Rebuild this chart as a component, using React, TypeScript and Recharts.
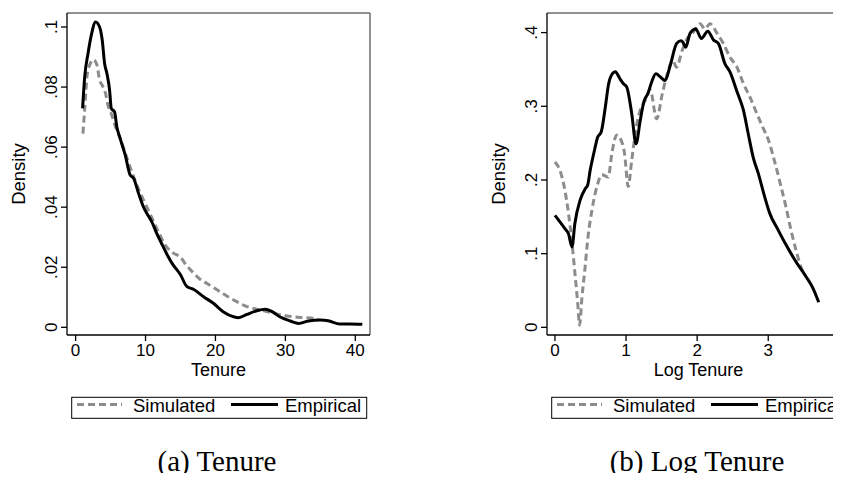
import React from "react";
import { LineChart, Line, XAxis, YAxis, ReferenceLine } from "recharts";

// (a) Tenure
const tenureEmpiricalX = [1, 1.3, 1.77, 2.24, 2.86, 3.43, 3.81, 4.15, 4.48, 4.86, 5.1, 5.57, 5.9, 6.3, 7.1, 7.8, 8.3, 9, 9.7, 10.2, 10.9, 11.6, 12.3, 13, 13.8, 15, 15.9, 16.9, 18.3, 19.7, 21.1, 22.6, 23.3, 24.5, 25.9, 27.1, 28.1, 29.2, 30.7, 31.9, 33.3, 35, 36.1, 37.8, 39.2, 41];
const tenureEmpiricalY = [0.0729, 0.0834, 0.0911, 0.0972, 0.1017, 0.1, 0.0956, 0.0878, 0.0845, 0.079, 0.0729, 0.0717, 0.0667, 0.0634, 0.0573, 0.0507, 0.0496, 0.0446, 0.0401, 0.0379, 0.0351, 0.0313, 0.0279, 0.0246, 0.0213, 0.0175, 0.0136, 0.0126, 0.0102, 0.008, 0.0052, 0.0035, 0.0032, 0.0043, 0.0055, 0.006, 0.0052, 0.0035, 0.0021, 0.0013, 0.0021, 0.0024, 0.0022, 0.0011, 0.0011, 0.001];
const tenureSimulatedX = [1.05, 1.29, 1.62, 2.0, 2.57, 3.06, 3.43, 3.81, 4.29, 4.62, 5.1, 5.71, 6.4, 7.1, 8, 9, 10, 11, 12, 12.6, 13.3, 14, 15, 15.9, 16.9, 17.8, 18.8, 20.7, 22.6, 24.5, 26.4, 28.3, 30.2, 32.1, 34, 34.7];
const tenureSimulatedY = [0.0645, 0.0723, 0.0834, 0.0873, 0.0891, 0.0873, 0.0823, 0.0806, 0.0778, 0.074, 0.0712, 0.0667, 0.0628, 0.058, 0.052, 0.046, 0.041, 0.036, 0.031, 0.0282, 0.026, 0.0247, 0.0233, 0.0205, 0.018, 0.016, 0.0146, 0.0118, 0.0091, 0.0069, 0.0058, 0.0047, 0.0038, 0.0033, 0.003, 0.0026];

// (b) Log Tenure
const logEmpiricalX = [0, 0.14, 0.19, 0.24, 0.28, 0.355, 0.425, 0.46, 0.495, 0.555, 0.6, 0.65, 0.71, 0.75, 0.8, 0.85, 0.91, 0.96, 1.01, 1.08, 1.14, 1.2, 1.25, 1.31, 1.36, 1.42, 1.48, 1.55, 1.62, 1.71, 1.77, 1.8, 1.84, 1.9, 1.98, 2.06, 2.15, 2.23, 2.3, 2.39, 2.46, 2.56, 2.65, 2.72, 2.79, 2.86, 2.95, 3.02, 3.14, 3.25, 3.39, 3.53, 3.63, 3.71];
const logEmpiricalY = [0.152, 0.134, 0.127, 0.109, 0.141, 0.173, 0.188, 0.193, 0.213, 0.24, 0.258, 0.265, 0.3, 0.328, 0.343, 0.347, 0.338, 0.331, 0.326, 0.29, 0.249, 0.281, 0.306, 0.318, 0.333, 0.344, 0.34, 0.335, 0.355, 0.385, 0.389, 0.387, 0.38, 0.399, 0.405, 0.392, 0.402, 0.39, 0.385, 0.358, 0.347, 0.32, 0.295, 0.262, 0.23, 0.209, 0.177, 0.155, 0.132, 0.112, 0.089, 0.069, 0.053, 0.034];
const logSimulatedX = [0, 0.07, 0.14, 0.19, 0.24, 0.285, 0.32, 0.346, 0.38, 0.42, 0.465, 0.52, 0.59, 0.66, 0.75, 0.8, 0.87, 0.93, 0.98, 1.03, 1.08, 1.15, 1.2, 1.27, 1.34, 1.43, 1.51, 1.58, 1.66, 1.71, 1.79, 1.85, 1.95, 2.04, 2.11, 2.18, 2.28, 2.37, 2.46, 2.56, 2.65, 2.74, 2.84, 2.93, 3.0, 3.09, 3.18, 3.25, 3.32, 3.39, 3.46, 3.53];
const logSimulatedY = [0.2245, 0.213, 0.186, 0.155, 0.114, 0.069, 0.033, 0.003, 0.041, 0.078, 0.123, 0.159, 0.191, 0.207, 0.204, 0.236, 0.261, 0.254, 0.235, 0.191, 0.227, 0.275, 0.295, 0.308, 0.322, 0.283, 0.317, 0.344, 0.362, 0.353, 0.376, 0.39, 0.401, 0.412, 0.405, 0.412, 0.399, 0.385, 0.367, 0.353, 0.331, 0.313, 0.29, 0.27, 0.255, 0.225, 0.191, 0.163, 0.132, 0.105, 0.082, 0.069];

const tenureXTicks = [0, 10, 20, 30, 40];
const tenureYTicks = [0, 0.02, 0.04, 0.06, 0.08, 0.1];
const tenureYLabels = ["0", ".02", ".04", ".06", ".08", ".1"];
const logXTicks = [0, 1, 2, 3, 4];
const logYTicks = [0, 0.1, 0.2, 0.3, 0.4];
const logYLabels = ["0", ".1", ".2", ".3", ".4"];
const seriesNames = ["Simulated", "Empirical"];

const SANS = '"Liberation Sans", Arial, sans-serif';
const SERIF = '"Liberation Serif", "Times New Roman", serif';
const GRAY = "#8c8c8c";
const W = 380;
const H = 380;
const PLOT_LEFT = 67;
const PLOT_TOP = 13;
const PLOT_RIGHT = 370;
const PLOT_BOTTOM = 335;

const toPoints = (xs: number[], ys: number[]) => xs.map((x, i) => ({ x, y: ys[i] }));

function XTick(props: any) {
  const { x, y, payload } = props;
  return (
    <text x={x} y={y} dy="0.74em" textAnchor="middle" fontSize={17} fontFamily={SANS} fill="#000">
      {payload.value}
    </text>
  );
}

function makeYTick(ticks: number[], labels: string[]) {
  return (props: any) => {
    const { x, y, payload } = props;
    const i = ticks.indexOf(payload.value);
    return (
      <text
        transform={`translate(${x},${y}) rotate(-90)`}
        textAnchor="middle"
        fontSize={17}
        fontFamily={SANS}
        fill="#000"
      >
        {i >= 0 ? labels[i] : payload.value}
      </text>
    );
  };
}

interface PanelProps {
  left: number;
  empirical: { x: number; y: number }[];
  simulated: { x: number; y: number }[];
  xDomain: [number, number];
  yDomain: [number, number];
  xTicks: number[];
  yTicks: number[];
  yLabels: string[];
  xTitle: string;
  caption: string;
}

function Panel({ left, empirical, simulated, xDomain, yDomain, xTicks, yTicks, yLabels, xTitle, caption }: PanelProps) {
  const midX = (PLOT_LEFT + PLOT_RIGHT) / 2;
  const midY = (PLOT_TOP + PLOT_BOTTOM) / 2;
  return (
    <div style={{ position: "absolute", left, top: 0, width: W, height: 481 }}>
      <LineChart width={W} height={H} margin={{ top: PLOT_TOP, right: W - PLOT_RIGHT, bottom: 0, left: 0 }}>
        <XAxis
          type="number"
          dataKey="x"
          domain={xDomain}
          ticks={xTicks}
          interval={0}
          allowDataOverflow
          height={H - PLOT_BOTTOM}
          tickSize={6}
          tickMargin={2}
          axisLine={{ stroke: "#000", strokeWidth: 1.3 }}
          tickLine={{ stroke: "#000", strokeWidth: 1.3 }}
          tick={XTick}
          label={{
            content: () => (
              <text x={midX} y={PLOT_BOTTOM + 41} textAnchor="middle" fontSize={18} fontFamily={SANS} fill="#000">
                {xTitle}
              </text>
            ),
          }}
        />
        <YAxis
          type="number"
          domain={yDomain}
          ticks={yTicks}
          interval={0}
          allowDataOverflow
          width={PLOT_LEFT}
          tickSize={6}
          tickMargin={4}
          axisLine={{ stroke: "#000", strokeWidth: 1.3 }}
          tickLine={{ stroke: "#000", strokeWidth: 1.3 }}
          tick={makeYTick(yTicks, yLabels)}
          label={{
            content: () => (
              <text
                transform={`translate(25,${midY}) rotate(-90)`}
                textAnchor="middle"
                fontSize={18.5}
                fontFamily={SANS}
                fill="#000"
              >
                Density
              </text>
            ),
          }}
        />
        <ReferenceLine y={yDomain[1]} stroke="#6e6e6e" strokeWidth={1.5} />
        <ReferenceLine x={xDomain[1]} stroke="#6e6e6e" strokeWidth={1.5} />
        <Line
          data={simulated}
          dataKey="y"
          name={seriesNames[0]}
          type="monotone"
          stroke={GRAY}
          strokeWidth={3}
          strokeDasharray="7 4"
          dot={false}
          isAnimationActive={false}
        />
        <Line
          data={empirical}
          dataKey="y"
          name={seriesNames[1]}
          type="monotone"
          stroke="#000"
          strokeWidth={3}
          dot={false}
          isAnimationActive={false}
        />
      </LineChart>
      <svg width={W} height={481} style={{ position: "absolute", left: 0, top: 0, pointerEvents: "none" }}>
        <rect x={71.7} y={397.3} width={295} height={21} fill="none" stroke="#000" strokeWidth={1} />
        <line x1={77} x2={122} y1={404.5} y2={404.5} stroke={GRAY} strokeWidth={3} strokeDasharray="7 4" />
        <text x={133} y={411.7} fontSize={18.5} fontFamily={SANS} fill="#000">
          {seriesNames[0]}
        </text>
        <line x1={231} x2={278} y1={404.5} y2={404.5} stroke="#000" strokeWidth={3} />
        <text x={285} y={411.7} fontSize={18.5} fontFamily={SANS} fill="#000">
          {seriesNames[1]}
        </text>
        <text x={217} y={471} textAnchor="middle" fontSize={29} fontFamily={SERIF} fill="#000">
          {caption}
        </text>
      </svg>
    </div>
  );
}

export default function App() {
  return (
    <div style={{ position: "relative", width: 841, height: 481, margin: -8, overflow: "hidden", background: "#fff" }}>
      <Panel
        left={0}
        empirical={toPoints(tenureEmpiricalX, tenureEmpiricalY)}
        simulated={toPoints(tenureSimulatedX, tenureSimulatedY)}
        xDomain={[-1.23, 42.1]}
        yDomain={[-0.00256, 0.10466]}
        xTicks={tenureXTicks}
        yTicks={tenureYTicks}
        yLabels={tenureYLabels}
        xTitle="Tenure"
        caption="(a)  Tenure"
      />
      <Panel
        left={480}
        empirical={toPoints(logEmpiricalX, logEmpiricalY)}
        simulated={toPoints(logSimulatedX, logSimulatedY)}
        xDomain={[-0.112, 4.15]}
        yDomain={[-0.0104, 0.4266]}
        xTicks={logXTicks}
        yTicks={logYTicks}
        yLabels={logYLabels}
        xTitle="Log Tenure"
        caption="(b)  Log Tenure"
      />
    </div>
  );
}
